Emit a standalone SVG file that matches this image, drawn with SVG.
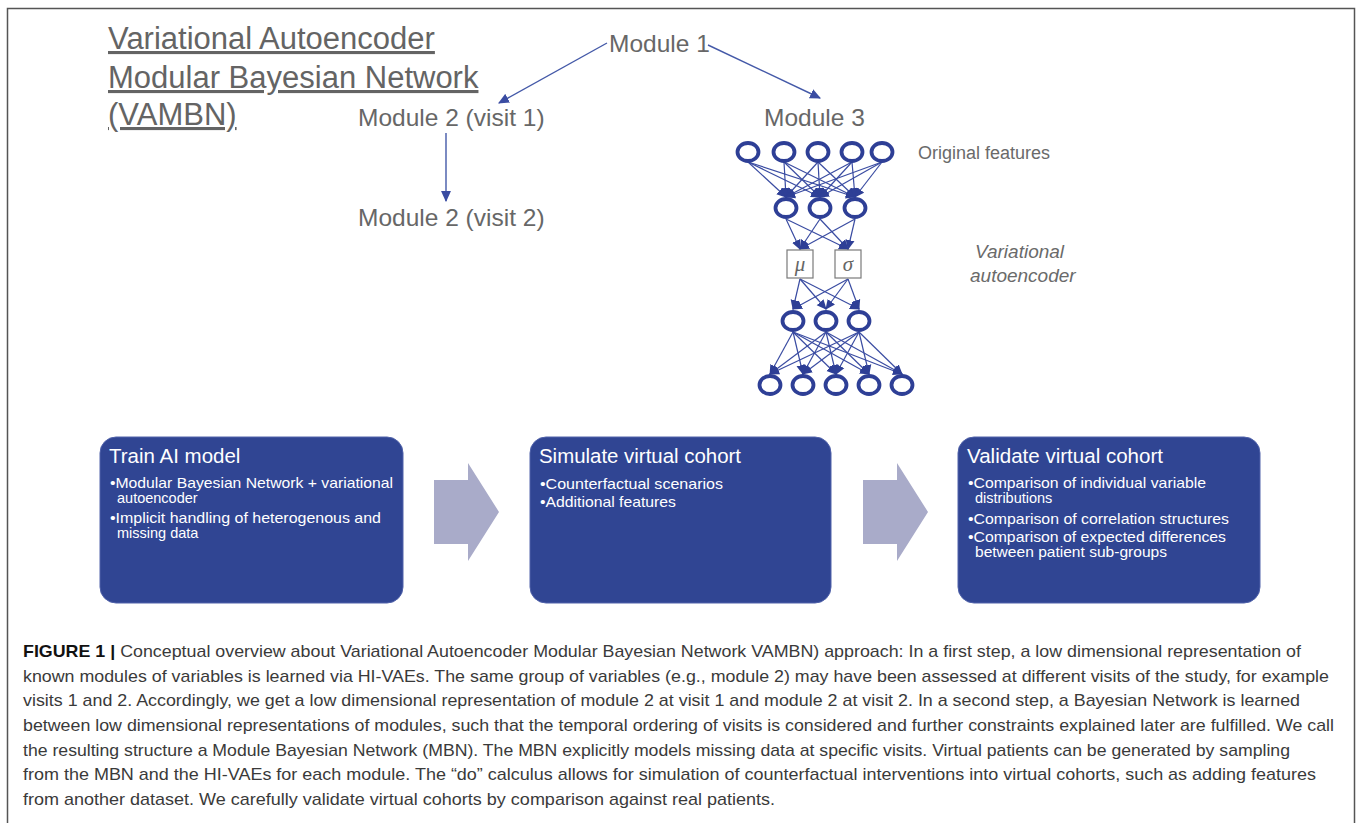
<svg xmlns="http://www.w3.org/2000/svg" width="1358" height="823" viewBox="0 0 1358 823">
<defs>
<marker id="ah" markerUnits="userSpaceOnUse" markerWidth="11" markerHeight="11" viewBox="0 0 10 10" refX="9" refY="5" orient="auto"><path d="M0,0.5 L10,5 L0,9.5 Z" fill="#3a4ca2"/></marker>
<marker id="ahs" markerUnits="userSpaceOnUse" markerWidth="10" markerHeight="10" viewBox="0 0 10 10" refX="9" refY="5" orient="auto"><path d="M0,0.5 L10,5 L0,9.5 Z" fill="#2e3f96"/></marker>
<style>
.mod{font-family:"Liberation Sans",Arial,sans-serif;font-size:24.5px;fill:#676767}
.ttl{font-family:"Liberation Sans",Arial,sans-serif;font-size:31px;fill:#646464;text-decoration:underline}
.lbl{font-family:"Liberation Sans",Arial,sans-serif;font-size:18px;fill:#6a6a6a}
.ital{font-family:"Liberation Sans",Arial,sans-serif;font-size:19px;fill:#6a6a6a;font-style:italic}
.neu{fill:#ffffff;stroke:#2e3f96;stroke-width:3.8}
.e{stroke:#3a4ca2;stroke-width:1.2;fill:none;marker-end:url(#ahs)}
.m{stroke:#4459a8;stroke-width:1.4;fill:none;marker-end:url(#ah)}
.box{fill:#304593;stroke:#5062aa;stroke-width:1}
.bt{font-family:"Liberation Sans",Arial,sans-serif;font-size:20.5px;fill:#ffffff}
.bl{font-family:"Liberation Sans",Arial,sans-serif;font-size:14.5px;fill:#ffffff}
.arr{fill:#a9abc9}
.pb{fill:#ffffff;stroke:#7a7a7a;stroke-width:1.2}
.greek{font-family:"Liberation Serif","Times New Roman",serif;font-style:italic;font-size:21px;fill:#666666}
.cap{font-family:"Liberation Sans",Arial,sans-serif;font-size:17px;fill:#3a3a3a}
</style>
</defs>
<rect x="7.5" y="8.5" width="1347" height="840" fill="none" stroke="#555555" stroke-width="1.5"/>

<g id="title"><text class="ttl"><tspan x="108" y="49">Variational Autoencoder</tspan><tspan x="108" y="88">Modular Bayesian Network</tspan><tspan x="108" y="125">(VAMBN)</tspan></text></g>

<g id="module1"><text class="mod" x="609" y="52">Module 1</text></g>
<g id="module2v1"><text class="mod" x="358" y="126">Module 2 (visit 1)</text></g>
<g id="module3"><text class="mod" x="764" y="126">Module 3</text></g>
<g id="module2v2"><text class="mod" x="358" y="226">Module 2 (visit 2)</text></g>

<g id="connectors">
<line class="m" x1="607" y1="43" x2="499" y2="103"/>
<line class="m" x1="708" y1="45" x2="820" y2="98"/>
<line class="m" x1="446" y1="133" x2="446" y2="201"/>
<!-- top -> hidden1 -->
<line class="e" x1="748" y1="162" x2="786" y2="197"/>
<line class="e" x1="748" y1="162" x2="820" y2="197"/>
<line class="e" x1="748" y1="162" x2="855" y2="197"/>
<line class="e" x1="784" y1="162" x2="786" y2="197"/>
<line class="e" x1="784" y1="162" x2="820" y2="197"/>
<line class="e" x1="784" y1="162" x2="855" y2="197"/>
<line class="e" x1="818" y1="162" x2="786" y2="197"/>
<line class="e" x1="818" y1="162" x2="820" y2="197"/>
<line class="e" x1="818" y1="162" x2="855" y2="197"/>
<line class="e" x1="852" y1="162" x2="786" y2="197"/>
<line class="e" x1="852" y1="162" x2="820" y2="197"/>
<line class="e" x1="852" y1="162" x2="855" y2="197"/>
<line class="e" x1="882" y1="162" x2="786" y2="197"/>
<line class="e" x1="882" y1="162" x2="820" y2="197"/>
<line class="e" x1="882" y1="162" x2="855" y2="197"/>
<!-- hidden1 -> mu/sigma -->
<line class="e" x1="786" y1="219" x2="800" y2="249"/>
<line class="e" x1="786" y1="219" x2="848" y2="249"/>
<line class="e" x1="820" y1="219" x2="800" y2="249"/>
<line class="e" x1="820" y1="219" x2="848" y2="249"/>
<line class="e" x1="855" y1="219" x2="800" y2="249"/>
<line class="e" x1="855" y1="219" x2="848" y2="249"/>
<!-- mu/sigma -> hidden2 -->
<line class="e" x1="800" y1="279" x2="793" y2="309"/>
<line class="e" x1="800" y1="279" x2="826" y2="309"/>
<line class="e" x1="800" y1="279" x2="859" y2="309"/>
<line class="e" x1="848" y1="279" x2="793" y2="309"/>
<line class="e" x1="848" y1="279" x2="826" y2="309"/>
<line class="e" x1="848" y1="279" x2="859" y2="309"/>
<!-- hidden2 -> bottom -->
<line class="e" x1="793" y1="332" x2="770" y2="374"/>
<line class="e" x1="793" y1="332" x2="803" y2="374"/>
<line class="e" x1="793" y1="332" x2="836" y2="374"/>
<line class="e" x1="793" y1="332" x2="869" y2="374"/>
<line class="e" x1="793" y1="332" x2="902" y2="374"/>
<line class="e" x1="826" y1="332" x2="770" y2="374"/>
<line class="e" x1="826" y1="332" x2="803" y2="374"/>
<line class="e" x1="826" y1="332" x2="836" y2="374"/>
<line class="e" x1="826" y1="332" x2="869" y2="374"/>
<line class="e" x1="826" y1="332" x2="902" y2="374"/>
<line class="e" x1="859" y1="332" x2="770" y2="374"/>
<line class="e" x1="859" y1="332" x2="803" y2="374"/>
<line class="e" x1="859" y1="332" x2="836" y2="374"/>
<line class="e" x1="859" y1="332" x2="869" y2="374"/>
<line class="e" x1="859" y1="332" x2="902" y2="374"/>
</g>

<g id="input-layer">
<ellipse class="neu" cx="748" cy="152" rx="10.5" ry="9"/>
<ellipse class="neu" cx="784" cy="152" rx="10.5" ry="9"/>
<ellipse class="neu" cx="818" cy="152" rx="10.5" ry="9"/>
<ellipse class="neu" cx="852" cy="152" rx="10.5" ry="9"/>
<ellipse class="neu" cx="882" cy="152" rx="10.5" ry="9"/>
</g>
<g id="hidden-encoder">
<ellipse class="neu" cx="786" cy="208" rx="10.5" ry="9"/>
<ellipse class="neu" cx="820" cy="208" rx="10.5" ry="9"/>
<ellipse class="neu" cx="855" cy="208" rx="10.5" ry="9"/>
</g>
<g id="mu"><rect class="pb" x="787" y="250" width="26" height="28"/><text class="greek" x="800" y="271" text-anchor="middle">μ</text></g>
<g id="sigma"><rect class="pb" x="835" y="250" width="26" height="28"/><text class="greek" x="848" y="271" text-anchor="middle">σ</text></g>
<g id="hidden-decoder">
<ellipse class="neu" cx="793" cy="321" rx="10.5" ry="9"/>
<ellipse class="neu" cx="826" cy="321" rx="10.5" ry="9"/>
<ellipse class="neu" cx="859" cy="321" rx="10.5" ry="9"/>
</g>
<g id="output-layer">
<ellipse class="neu" cx="770" cy="385" rx="10.5" ry="9"/>
<ellipse class="neu" cx="803" cy="385" rx="10.5" ry="9"/>
<ellipse class="neu" cx="836" cy="385" rx="10.5" ry="9"/>
<ellipse class="neu" cx="869" cy="385" rx="10.5" ry="9"/>
<ellipse class="neu" cx="902" cy="385" rx="10.5" ry="9"/>
</g>
<g id="labels-vae">
<text class="lbl" x="918" y="159">Original features</text>
<text class="ital"><tspan x="975" y="258">Variational</tspan><tspan x="970" y="282">autoencoder</tspan></text>
</g>

<g id="train">
<rect class="box" x="100" y="437" width="303" height="166" rx="16"/>
<text class="bt" x="109" y="463">Train AI model</text>
<text class="bl" x="110" y="488" textLength="283" lengthAdjust="spacingAndGlyphs">•Modular Bayesian Network + variational</text>
<text class="bl" x="117" y="503">autoencoder</text>
<text class="bl" x="110" y="523" textLength="271" lengthAdjust="spacingAndGlyphs">•Implicit handling of heterogenous and</text>
<text class="bl" x="117" y="538">missing data</text>
</g>
<g id="arrow1"><path class="arr" d="M434,480 L468,480 L468,463 L499,512 L468,561 L468,544 L434,544 Z"/></g>
<g id="simulate">
<rect class="box" x="530" y="437" width="301" height="166" rx="16"/>
<text class="bt" x="539" y="463" textLength="202" lengthAdjust="spacingAndGlyphs">Simulate virtual  cohort</text>
<text class="bl" x="540" y="489" textLength="183" lengthAdjust="spacingAndGlyphs">•Counterfactual scenarios</text>
<text class="bl" x="540" y="507" textLength="136" lengthAdjust="spacingAndGlyphs">•Additional features</text>
</g>
<g id="arrow2"><path class="arr" d="M863,480 L897,480 L897,463 L928,512 L897,561 L897,544 L863,544 Z"/></g>
<g id="validate">
<rect class="box" x="958" y="437" width="302" height="166" rx="16"/>
<text class="bt" x="967" y="463" textLength="196" lengthAdjust="spacingAndGlyphs">Validate virtual  cohort</text>
<text class="bl" x="968" y="488" textLength="238" lengthAdjust="spacingAndGlyphs">•Comparison of individual variable</text>
<text class="bl" x="975" y="503">distributions</text>
<text class="bl" x="968" y="524" textLength="261" lengthAdjust="spacingAndGlyphs">•Comparison of correlation structures</text>
<text class="bl" x="968" y="542" textLength="258" lengthAdjust="spacingAndGlyphs">•Comparison of expected differences</text>
<text class="bl" x="975" y="557" textLength="192" lengthAdjust="spacingAndGlyphs">between patient sub-groups</text>
</g>

<g id="caption">
<text class="cap" x="23" y="657" textLength="1278" lengthAdjust="spacingAndGlyphs"><tspan font-weight="bold" fill="#111111">FIGURE 1 |</tspan> Conceptual overview about Variational Autoencoder Modular Bayesian Network VAMBN) approach: In a first step, a low dimensional representation of</text>
<text class="cap" x="23" y="682" textLength="1306" lengthAdjust="spacingAndGlyphs">known modules of variables is learned via HI-VAEs. The same group of variables (e.g., module 2) may have been assessed at different visits of the study, for example</text>
<text class="cap" x="23" y="706" textLength="1277" lengthAdjust="spacingAndGlyphs">visits 1 and 2. Accordingly, we get a low dimensional representation of module 2 at visit 1 and module 2 at visit 2. In a second step, a Bayesian Network is learned</text>
<text class="cap" x="23" y="731" textLength="1311" lengthAdjust="spacingAndGlyphs">between low dimensional representations of modules, such that the temporal ordering of visits is considered and further constraints explained later are fulfilled. We call</text>
<text class="cap" x="23" y="756" textLength="1267" lengthAdjust="spacingAndGlyphs">the resulting structure a Module Bayesian Network (MBN). The MBN explicitly models missing data at specific visits. Virtual patients can be generated by sampling</text>
<text class="cap" x="23" y="780" textLength="1293" lengthAdjust="spacingAndGlyphs">from the MBN and the HI-VAEs for each module. The “do” calculus allows for simulation of counterfactual interventions into virtual cohorts, such as adding features</text>
<text class="cap" x="23" y="805" textLength="752" lengthAdjust="spacingAndGlyphs">from another dataset. We carefully validate virtual cohorts by comparison against real patients.</text>
</g>
</svg>
